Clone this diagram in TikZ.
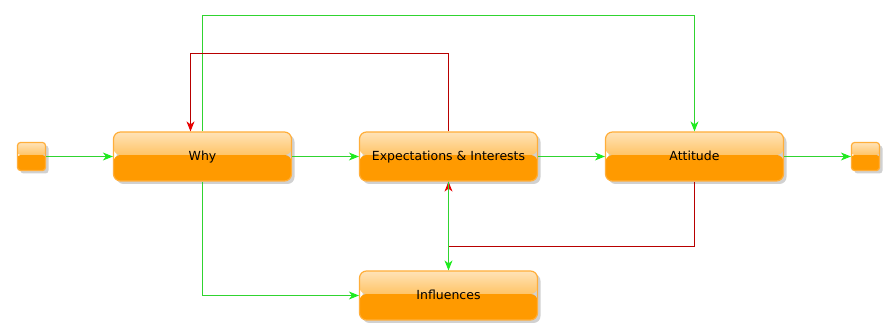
\documentclass[tikz,border=0pt]{standalone}
\usepackage{fontspec}
\setmainfont{DejaVu Sans}
\usetikzlibrary{arrows.meta,shadows}
\definecolor{boxtop}{HTML}{FFE3B8}
\definecolor{boxmid}{HTML}{FFC466}
\definecolor{boxlow}{HTML}{FF9A00}
\definecolor{boxline}{HTML}{FFAE3A}
\definecolor{flowgreen}{HTML}{30D430}
\definecolor{tipgreen}{HTML}{1EEB1E}
\definecolor{flowred}{HTML}{B80000}
\definecolor{tipred}{HTML}{E80000}
\tikzset{
  box/.style={draw=boxline, line width=1.2pt, rounded corners=7pt,
    minimum width=178pt, minimum height=49pt, inner sep=0pt,
    text height=8pt, text depth=0pt,
    font=\fontsize{12.5}{15}\selectfont,
    drop shadow={shadow xshift=3pt, shadow yshift=-3pt, opacity=0.3, fill=black!60},
    path picture={
      \fill[boxlow] ([yshift=1.5pt]path picture bounding box.west) rectangle (path picture bounding box.south east);
      \shade[top color=boxtop, bottom color=boxmid] (path picture bounding box.north west) rectangle ([yshift=1.5pt]path picture bounding box.east);
    }},
  port/.style={box, minimum width=28pt, minimum height=28pt, rounded corners=3pt},
  go/.style={draw=flowgreen, line width=1pt, -{Stealth[length=10pt, width=8pt, inset=3pt, color=tipgreen]}},
  back/.style={draw=flowred, line width=1pt, -{Stealth[length=10pt, width=8pt, inset=3pt, color=tipred]}}
}
\begin{document}
\begin{tikzpicture}[x=1pt, y=-1pt]
\useasboundingbox (-0.5,-0.5) rectangle (895.5,335.5);
\node[port] (start) at (31,156) {};
\node[box] (why) at (202,156) {Why};
\node[box] (expect) at (448,156) {Expectations \& Interests};
\node[box] (att) at (694,156) {Attitude};
\node[box] (infl) at (448,295) {Influences};
\node[port] (stop) at (865,156) {};
\coordinate (split) at (448,246);
\draw[go] (start) -- (why);
\draw[go] (why) -- (expect);
\draw[go] (expect) -- (att);
\draw[go] (att) -- (stop);
\draw[go] (why.north) -- ++(0,-116) -| (att.north);
\draw[back] (expect.north) -- ++(0,-78) -| ([xshift=-12pt]why.north);
\draw[go] (why.south) |- (infl.west);
\draw[back] (att.south) |- (split) -- (expect.south);
\draw[go] (expect.south) -- (infl.north);
\end{tikzpicture}
\end{document}
